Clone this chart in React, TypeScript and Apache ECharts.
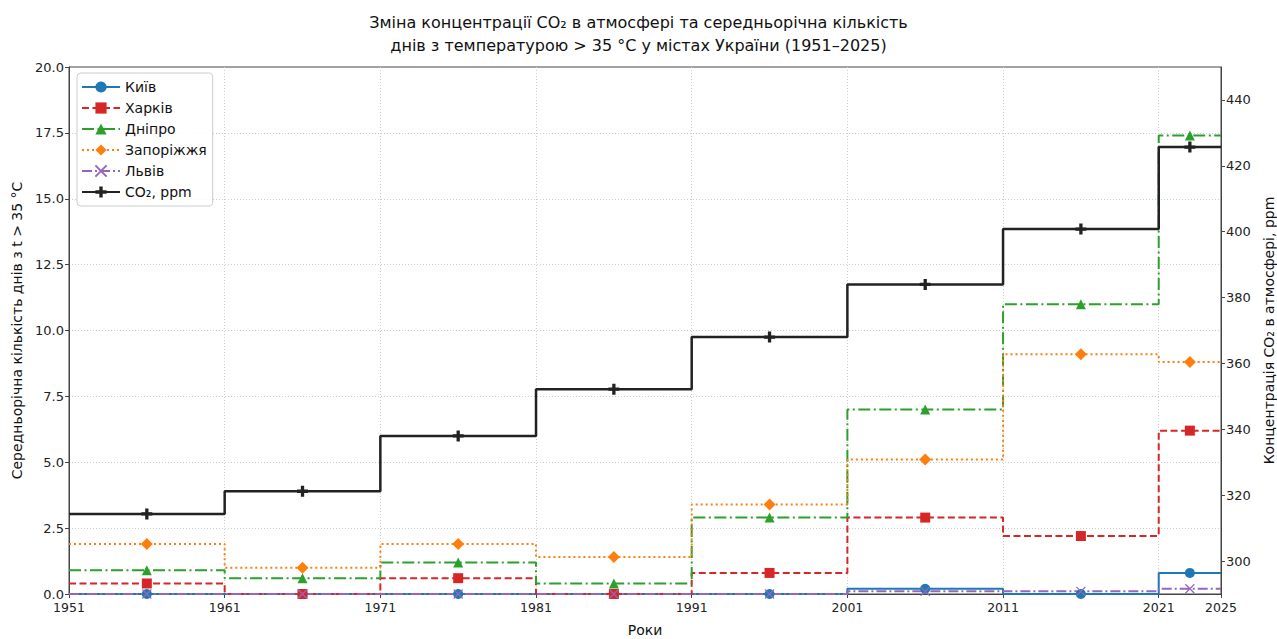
import React, { useEffect, useRef } from "react";
import * as echarts from "echarts";

const periodStarts = [1951, 1961, 1971, 1981, 1991, 2001, 2011, 2021];
const endYear = 2025;
const midYears = [1956, 1966, 1976, 1986, 1996, 2006, 2016, 2023];
const xTickLabels = [1951, 1961, 1971, 1981, 1991, 2001, 2011, 2021, 2025];
const co2Ticks = [300, 320, 340, 360, 380, 400, 420, 440];

const kyiv = [0, 0, 0, 0, 0, 0.2, 0, 0.8];
const kharkiv = [0.4, 0, 0.6, 0, 0.8, 2.9, 2.2, 6.2];
const dnipro = [0.9, 0.6, 1.2, 0.4, 2.9, 7.0, 11.0, 17.4];
const zaporizhzhia = [1.9, 1.0, 1.9, 1.4, 3.4, 5.1, 9.1, 8.8];
const lviv = [0, 0, 0, 0, 0, 0.1, 0.1, 0.2];
const co2 = [314.3, 321.2, 338, 352.2, 368, 384, 400.8, 425.7];

const FONT = "DejaVu Sans";

function stepData(vals: number[]) {
  const out: any[] = [];
  vals.forEach((v, i) => {
    out.push({ value: [periodStarts[i], v], symbol: "none" });
    out.push({ value: [midYears[i], v] });
  });
  out.push({ value: [endYear, vals[vals.length - 1]], symbol: "none" });
  return out;
}

const X_PATH = "path://M0,0L10,10M10,0L0,10";
const PLUS_PATH = "path://M3.5,0H6.5V3.5H10V6.5H6.5V10H3.5V6.5H0V3.5H3.5Z";

export default function App() {
  const ref = useRef<HTMLDivElement>(null);
  useEffect(() => {
    if (!ref.current) return;
    const chart = echarts.init(ref.current, null, { renderer: "svg" });
    const mk = (
      name: string,
      vals: number[],
      color: string,
      dash: any,
      symbol: string,
      width: number,
      yAxisIndex = 0,
      extraItem: any = {},
      symbolSize = 10
    ) => ({
      name,
      type: "line",
      step: "end",
      yAxisIndex,
      data: stepData(vals),
      symbol,
      symbolSize,
      showSymbol: true,
      lineStyle: { color, width, type: dash },
      itemStyle: { color, ...extraItem },
      emphasis: { disabled: true },
    });
    chart.setOption({
      animation: false,
      textStyle: { fontFamily: FONT },
      title: {
        text:
          "Зміна концентрації CO₂ в атмосфері та середньорічна кількість\nднів з температурою > 35 °C у містах України (1951–2025)",
        left: "center",
        top: 6,
        textStyle: {
          fontFamily: FONT,
          fontSize: 16,
          fontWeight: "normal",
          color: "#111",
          lineHeight: 23,
        },
      },
      legend: {
        orient: "vertical",
        left: 77,
        top: 73,
        itemGap: 7,
        itemWidth: 38,
        itemHeight: 14,
        padding: [7, 6, 7, 4],
        borderColor: "#ccc",
        borderWidth: 1,
        borderRadius: 4,
        backgroundColor: "rgba(255,255,255,0.85)",
        textStyle: { fontFamily: FONT, fontSize: 14, color: "#111" },
        data: ["Київ", "Харків", "Дніпро", "Запоріжжя", "Львів", "CO₂, ppm"],
      },
      grid: {
        left: 69,
        right: 56,
        top: 67,
        bottom: 45,
        outerBoundsMode: "none",
        containLabel: false,
        show: true,
        borderColor: "#444",
        borderWidth: 1,
        backgroundColor: "transparent",
      },
      xAxis: {
        type: "value",
        min: 1951,
        max: 2025,
        name: "Роки",
        nameLocation: "middle",
        nameGap: 29,
        nameTextStyle: { fontFamily: FONT, fontSize: 14, color: "#111" },
        axisLine: { show: true, lineStyle: { color: "#444" } },
        axisTick: { show: true, customValues: xTickLabels, length: 4, lineStyle: { color: "#444" } },
        axisLabel: {
          customValues: xTickLabels,
          fontFamily: FONT,
          fontSize: 12.5,
          color: "#222",
          margin: 7,
          formatter: (v: number) => String(v),
        },
        splitLine: {
          show: true,
          showMinLine: false,
          showMaxLine: false,
          lineStyle: { color: "#ccc", type: [1, 2], width: 1 },
        },
      },
      yAxis: [
        {
          type: "value",
          min: 0,
          max: 20,
          interval: 2.5,
          name: "Середньорічна кількість днів з t > 35 °C",
          nameLocation: "middle",
          nameGap: 45,
          nameTextStyle: { fontFamily: FONT, fontSize: 14, color: "#111" },
          axisLine: { show: true, lineStyle: { color: "#444" } },
          axisTick: { show: true, length: 4, lineStyle: { color: "#444" } },
          axisLabel: {
            fontFamily: FONT,
            fontSize: 13,
            color: "#222",
            margin: 5,
            formatter: (v: number) => v.toFixed(1),
          },
          splitLine: {
            show: true,
            showMinLine: false,
            showMaxLine: false,
            lineStyle: { color: "#ccc", type: [1, 2], width: 1 },
          },
        },
        {
          type: "value",
          min: 290,
          max: 450,
          position: "right",
          name: "Концентрація CO₂ в атмосфері, ppm",
          nameLocation: "middle",
          nameGap: 39,
          nameTextStyle: { fontFamily: FONT, fontSize: 14, color: "#111" },
          axisLine: { show: true, lineStyle: { color: "#444" } },
          axisTick: { show: true, customValues: co2Ticks, length: 4, lineStyle: { color: "#444" } },
          axisLabel: {
            customValues: co2Ticks,
            fontFamily: FONT,
            fontSize: 13,
            color: "#222",
            margin: 5,
          },
          splitLine: { show: false },
        },
      ],
      series: [
        mk("Київ", kyiv, "#1f77b4", "solid", "circle", 2),
        mk("Харків", kharkiv, "#d62728", [7, 3.5], "rect", 2),
        mk("Дніпро", dnipro, "#2ca02c", [12, 3.5, 2, 3.5], "triangle", 2),
        mk("Запоріжжя", zaporizhzhia, "#ff7f0e", [2, 3], "diamond", 2, 0, {}, 12),
        mk("Львів", lviv, "#9467bd", [10, 3, 2, 3], X_PATH, 2, 0, {
          color: "transparent",
          borderColor: "#9467bd",
          borderWidth: 1.2,
        }, 9),
        mk("CO₂, ppm", co2, "#222222", "solid", PLUS_PATH, 2.5, 1, {}, 11),
      ],
    });
    return () => chart.dispose();
  }, []);
  return (
    <div
      ref={ref}
      style={{ position: "fixed", left: 0, top: 0, width: 1277, height: 639, background: "#fff" }}
    />
  );
}
